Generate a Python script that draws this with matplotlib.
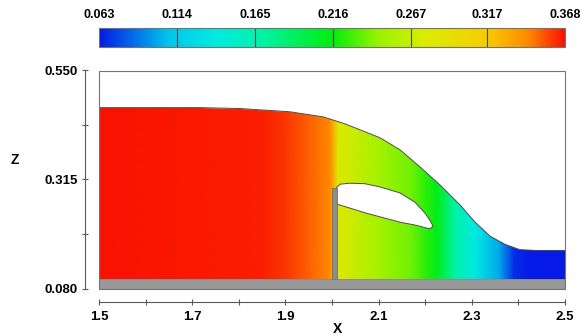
import numpy as np
import matplotlib
matplotlib.use("Agg")
import matplotlib.pyplot as plt
from matplotlib.colors import LinearSegmentedColormap, Normalize
from matplotlib.patches import Polygon, Rectangle
from matplotlib.cm import ScalarMappable
from matplotlib.ticker import FixedLocator

plt.rcParams['font.family'] = ['Liberation Sans', 'DejaVu Sans']

# free surface of the flow
surf_x = [1.500, 1.717, 1.803, 1.910, 1.981, 2.028, 2.103, 2.146, 2.189,
          2.232, 2.275, 2.307, 2.339, 2.371, 2.403, 2.436, 2.500]
surf_z = [0.470, 0.470, 0.468, 0.461, 0.450, 0.435, 0.405, 0.379, 0.342,
          0.303, 0.260, 0.223, 0.193, 0.175, 0.164, 0.162, 0.162]

# channel bed and gate
bed_bottom = 0.080
bed_top = 0.100
gate_x0, gate_x1 = 2.000, 2.010
gate_top = 0.297

# air pocket behind the gate
bub_x = [2.010, 2.018, 2.039, 2.070, 2.103, 2.146, 2.178, 2.200, 2.212, 2.217,
         2.210, 2.204, 2.182, 2.146, 2.075, 2.017, 2.010]
bub_z = [0.298, 0.305, 0.307, 0.306, 0.299, 0.286, 0.266, 0.242, 0.224, 0.214,
         0.209, 0.210, 0.216, 0.223, 0.242, 0.260, 0.262]

# contour variable along the channel
field_x = [1.50, 1.85, 1.90, 1.95, 1.996, 2.013, 2.10, 2.17, 2.20, 2.225,
           2.264, 2.307, 2.36, 2.39, 2.42, 2.50]
field_v = [0.367, 0.365, 0.360, 0.352, 0.343, 0.283, 0.252, 0.237, 0.225, 0.212,
           0.170, 0.139, 0.100, 0.069, 0.064, 0.063]

levels = [0.063, 0.114, 0.165, 0.216, 0.267, 0.317, 0.368]
level_labels = ["0.063", "0.114", "0.165", "0.216", "0.267", "0.317", "0.368"]
x_ticks = [1.5, 1.7, 1.9, 2.1, 2.3, 2.5]
x_minor = [1.6, 1.8, 2.0, 2.2, 2.4]
y_ticks = [0.080, 0.315, 0.550]
y_minor = [0.1975, 0.4325]

cmap = LinearSegmentedColormap.from_list("rainbow_tp", [
    (0.00, (0.02, 0.10, 0.90)),
    (0.15, (0.00, 0.78, 0.92)),
    (0.25, (0.00, 0.92, 0.88)),
    (0.35, (0.00, 0.95, 0.65)),
    (0.50, (0.00, 0.93, 0.05)),
    (0.60, (0.60, 0.95, 0.00)),
    (0.70, (0.85, 0.93, 0.00)),
    (0.833, (0.97, 0.80, 0.00)),
    (0.92, (1.00, 0.55, 0.00)),
    (1.00, (0.98, 0.07, 0.00)),
])
norm = Normalize(vmin=levels[0], vmax=levels[-1])

fig = plt.figure(figsize=(5.82, 3.36), dpi=100)
ax = fig.add_axes([99 / 582, 47.5 / 336, 466 / 582, 218 / 336])
ax.set_xlim(1.5, 2.5)
ax.set_ylim(0.08, 0.55)

# water region used to clip the contour field
water = Polygon(list(zip(surf_x, surf_z)) + [(2.5, bed_top), (1.5, bed_top)],
                closed=True, facecolor='none', edgecolor='none')
ax.add_patch(water)

X, Z = np.meshgrid(field_x, [bed_top, 0.50])
C = np.vstack([field_v, field_v])
mesh = ax.pcolormesh(X, Z, C, cmap=cmap, norm=norm, shading='gouraud', zorder=1)
mesh.set_clip_path(water)

ax.plot(surf_x, surf_z, color='0.3', lw=0.7, zorder=3)

ax.add_patch(Polygon(list(zip(bub_x, bub_z)), closed=True, facecolor='white',
                     edgecolor='0.3', lw=0.7, zorder=3))
ax.add_patch(Rectangle((gate_x0, bed_top), gate_x1 - gate_x0, gate_top - bed_top,
                       facecolor='0.55', edgecolor='0.4', lw=0.5, zorder=4))
ax.add_patch(Rectangle((1.5, bed_bottom), 1.0, bed_top - bed_bottom,
                       facecolor='0.6', edgecolor='0.45', lw=0.5, zorder=4))

# plot frame, with the axis lines pushed out from it
ax.add_patch(Rectangle((0, 0), 1, 1, transform=ax.transAxes, fill=False,
                       edgecolor='0.45', lw=0.8, clip_on=False, zorder=5))
for side in ['top', 'right']:
    ax.spines[side].set_visible(False)
ax.spines['left'].set_position(('outward', 10))
ax.spines['bottom'].set_position(('outward', 10))
for side in ['left', 'bottom']:
    ax.spines[side].set_color('0.35')
    ax.spines[side].set_linewidth(0.8)

ax.xaxis.set_major_locator(FixedLocator(x_ticks))
ax.xaxis.set_minor_locator(FixedLocator(x_minor))
ax.set_xticklabels([f"{v:.1f}" for v in x_ticks])
ax.yaxis.set_major_locator(FixedLocator(y_ticks))
ax.yaxis.set_minor_locator(FixedLocator(y_minor))
ax.set_yticklabels([f"{v:.3f}" for v in y_ticks])
ax.tick_params(which='both', direction='inout', length=5, width=0.8, color='0.35')
ax.tick_params(axis='x', pad=3.5, labelsize=9.5)
ax.tick_params(axis='y', pad=3, labelsize=9.5)
for lab in ax.get_xticklabels() + ax.get_yticklabels():
    lab.set_fontweight('bold')

fig.text(337 / 582, 1 - 329 / 336, "X", ha='center', va='center',
         fontsize=10, fontweight='bold')
fig.text(15 / 582, 1 - 160 / 336, "Z", ha='center', va='center',
         fontsize=10, fontweight='bold')

# colour legend along the top
cax = fig.add_axes([99 / 582, 1 - 46.5 / 336, 466 / 582, 19 / 336])
cb = fig.colorbar(ScalarMappable(norm=norm, cmap=cmap), cax=cax,
                  orientation='horizontal', ticks=levels)
cb.outline.set_edgecolor('0.45')
cb.outline.set_linewidth(0.8)
cax.xaxis.set_ticks_position('top')
cax.set_xticklabels(level_labels)
cax.tick_params(length=0, pad=5, labelsize=9)
for lab in cax.get_xticklabels():
    lab.set_fontweight('bold')
for lv in levels[1:-1]:
    cax.axvline(lv, color='0.3', lw=0.8)

fig.savefig("out.png", dpi=100)
